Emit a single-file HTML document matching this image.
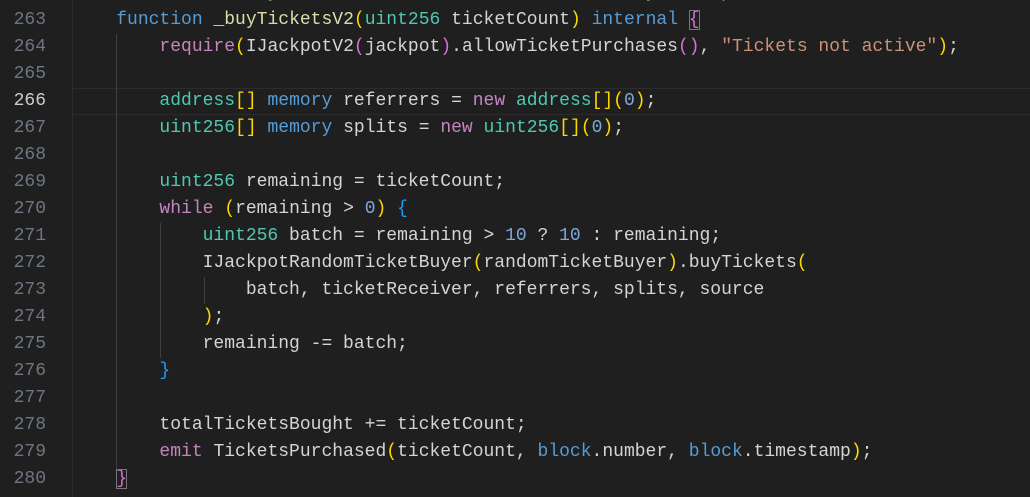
<!DOCTYPE html>
<html><head><meta charset="utf-8"><style>
html,body{margin:0;padding:0;background:#1f1f1f;width:1030px;height:497px;overflow:hidden}
body{position:relative;font-family:"Liberation Mono",monospace;font-size:18px;color:#d4d4d4}
.ln{position:absolute;left:0;width:46px;text-align:right;color:#6e7681;height:27px;line-height:27px}
.ln.cur{color:#cccccc}
.cl{position:absolute;left:73px;height:27px;line-height:27px;white-space:pre}
.k{color:#569cd6}.c{color:#c586c0}.t{color:#4ec9b0}.f{color:#dcdcaa}.s{color:#ce9178}.n{color:#7fa8d6}
.y{color:#ffd700}.p{color:#da70d6}.b{color:#179fff}.g{color:#6a9955}
.box{outline:1px solid #777;outline-offset:-1px}
.guide{position:absolute;width:1px;background:#404040}
</style></head><body>
<div style="position:absolute;left:72px;top:88px;width:958px;height:27px;border-top:1px solid #2c2c2c;border-bottom:1px solid #2c2c2c;box-sizing:border-box"></div>
<div class="guide" style="left:72px;top:0;height:497px;background:#2e2e2e"></div>
<div class="guide" style="left:116px;top:34px;height:451px"></div>
<div class="guide" style="left:160px;top:223px;height:135px"></div>
<div class="guide" style="left:204px;top:277px;height:27px"></div>

<div class="cl g" style="top:-20px">    /// @notice Buys tickets via the random ticket buyer helper</div>

<div class="ln" style="top:7px">263</div><div class="cl" style="top:7px">    <span class="k">function</span> <span class="f">_buyTicketsV2</span><span class="y">(</span><span class="t">uint256</span> ticketCount<span class="y">)</span> <span class="k">internal</span> <span class="p box">{</span></div>
<div class="ln" style="top:34px">264</div><div class="cl" style="top:34px">        <span class="c">require</span><span class="y">(</span>IJackpotV2<span class="p">(</span>jackpot<span class="p">)</span>.allowTicketPurchases<span class="p">()</span>, <span class="s">"Tickets not active"</span><span class="y">)</span>;</div>
<div class="ln" style="top:61px">265</div>
<div class="ln cur" style="top:88px">266</div><div class="cl" style="top:88px">        <span class="t">address</span><span class="y">[]</span> <span class="k">memory</span> referrers = <span class="c">new</span> <span class="t">address</span><span class="y">[]</span><span class="y">(</span><span class="n">0</span><span class="y">)</span>;</div>
<div class="ln" style="top:115px">267</div><div class="cl" style="top:115px">        <span class="t">uint256</span><span class="y">[]</span> <span class="k">memory</span> splits = <span class="c">new</span> <span class="t">uint256</span><span class="y">[]</span><span class="y">(</span><span class="n">0</span><span class="y">)</span>;</div>
<div class="ln" style="top:142px">268</div>
<div class="ln" style="top:169px">269</div><div class="cl" style="top:169px">        <span class="t">uint256</span> remaining = ticketCount;</div>
<div class="ln" style="top:196px">270</div><div class="cl" style="top:196px">        <span class="c">while</span> <span class="y">(</span>remaining &gt; <span class="n">0</span><span class="y">)</span> <span class="b">{</span></div>
<div class="ln" style="top:223px">271</div><div class="cl" style="top:223px">            <span class="t">uint256</span> batch = remaining &gt; <span class="n">10</span> ? <span class="n">10</span> : remaining;</div>
<div class="ln" style="top:250px">272</div><div class="cl" style="top:250px">            IJackpotRandomTicketBuyer<span class="y">(</span>randomTicketBuyer<span class="y">)</span>.buyTickets<span class="y">(</span></div>
<div class="ln" style="top:277px">273</div><div class="cl" style="top:277px">                batch, ticketReceiver, referrers, splits, source</div>
<div class="ln" style="top:304px">274</div><div class="cl" style="top:304px">            <span class="y">)</span>;</div>
<div class="ln" style="top:331px">275</div><div class="cl" style="top:331px">            remaining -= batch;</div>
<div class="ln" style="top:358px">276</div><div class="cl" style="top:358px">        <span class="b">}</span></div>
<div class="ln" style="top:385px">277</div>
<div class="ln" style="top:412px">278</div><div class="cl" style="top:412px">        totalTicketsBought += ticketCount;</div>
<div class="ln" style="top:439px">279</div><div class="cl" style="top:439px">        <span class="c">emit</span> TicketsPurchased<span class="y">(</span>ticketCount, <span class="k">block</span>.number, <span class="k">block</span>.timestamp<span class="y">)</span>;</div>
<div class="ln" style="top:466px">280</div><div class="cl" style="top:466px">    <span class="p box">}</span></div>
</body></html>
